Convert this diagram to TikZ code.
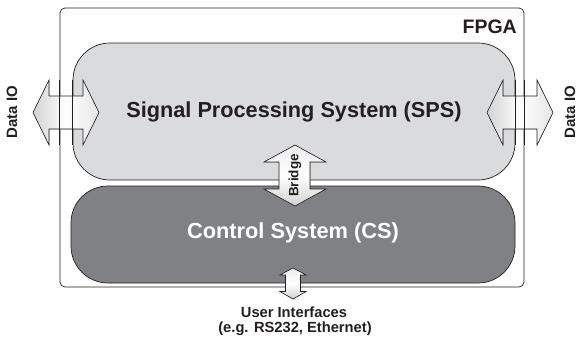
\documentclass[tikz,border=0pt]{standalone}
\usepackage{fontspec}
\setmainfont{Liberation Sans}
\usepackage{tikz}
\usetikzlibrary{positioning}

\definecolor{inkgray}{RGB}{35,31,32}
\definecolor{spsfill}{RGB}{218,219,221}
\definecolor{csfill}{RGB}{128,129,133}

\tikzset{
  fpgabox/.style={draw=inkgray,line width=0.7pt,rounded corners=5pt,fill=white},
  sysbox/.style={draw=inkgray,line width=0.7pt,rounded corners=37pt},
  edgeline/.style={draw=inkgray,line width=0.6pt},
  ioarrowH/.style={draw=inkgray,line width=0.6pt,left color=gray!35,right color=gray!20,middle color=white},
  ioarrowV/.style={draw=inkgray,line width=0.6pt,top color=gray!15,bottom color=gray!35,middle color=white},
  label/.style={font=\bfseries,text=inkgray,inner sep=0pt}
}

\begin{document}
\begin{tikzpicture}[x=1pt,y=-1pt]
\useasboundingbox (0,0) rectangle (577,338);
% outer FPGA frame
\node[fpgabox,minimum width=464pt,minimum height=279pt] (fpga) at (292,147.5) {};
\node[label,font=\bfseries\fontsize{19.5}{20}\selectfont,anchor=base east] (fpgatxt) at (517,33) {FPGA};
% the two systems
\node[sysbox,fill=spsfill,minimum width=442pt,minimum height=137pt] (sps) at (294,111.5) {};
\node[sysbox,fill=csfill,minimum width=444pt,minimum height=97pt] (cs) at (293,234.5) {};
\node[label,font=\bfseries\fontsize{21.7}{22}\selectfont] (spstxt) at (sps) {Signal Processing System (SPS)};
\node[label,font=\bfseries\fontsize{21.8}{22}\selectfont,text=white] (cstxt) at (293,233) {Control System (CS)};
% data io, left and right
\filldraw[ioarrowH] (33,112.5) -- (49,80) -- (49,96) -- (83,96) -- (83,80) -- (99,112.5)
  -- (83,145) -- (83,129) -- (49,129) -- (49,145) -- cycle;
\filldraw[ioarrowH] (487,112.5) -- (503,80) -- (503,96) -- (537,96) -- (537,80) -- (553,112.5)
  -- (537,145) -- (537,129) -- (503,129) -- (503,145) -- cycle;
% frame lines run over the arrows
\draw[edgeline] (fpga.west |- 0,80) -- (fpga.west |- 0,145);
\draw[edgeline] (fpga.east |- 0,80) -- (fpga.east |- 0,145);
\draw[edgeline] (sps.west |- 0,80) -- (sps.west |- 0,145);
\draw[edgeline] (sps.east |- 0,80) -- (sps.east |- 0,145);
\node[label,font=\bfseries\fontsize{15}{16}\selectfont,rotate=90] (ioleft) at (12,112) {Data IO};
\node[label,font=\bfseries\fontsize{15}{16}\selectfont,rotate=90] (ioright) at (570,112) {Data IO};
% bridge
\filldraw[ioarrowV] (295,145) -- (326,162) -- (310,162) -- (310,189) -- (326,189) -- (295,206)
  -- (264,189) -- (279,189) -- (279,162) -- (264,162) -- cycle;
\node[label,font=\bfseries\fontsize{13.5}{14}\selectfont,rotate=90] (bridge) at (295,175.5) {Bridge};
% user interfaces
\filldraw[ioarrowV] (293,268) -- (306,275) -- (300.5,275) -- (300.5,291.5) -- (306,291.5) -- (293,299)
  -- (280,291.5) -- (285.5,291.5) -- (285.5,275) -- (280,275) -- cycle;
\node[label,font=\bfseries\fontsize{14.7}{15}\selectfont,anchor=base] (ui1) at (294,317) {User Interfaces};
\node[label,font=\bfseries\fontsize{14.7}{15}\selectfont,anchor=base] (ui2) at (295,332) {(e.g. RS232, Ethernet)};
\end{tikzpicture}
\end{document}
